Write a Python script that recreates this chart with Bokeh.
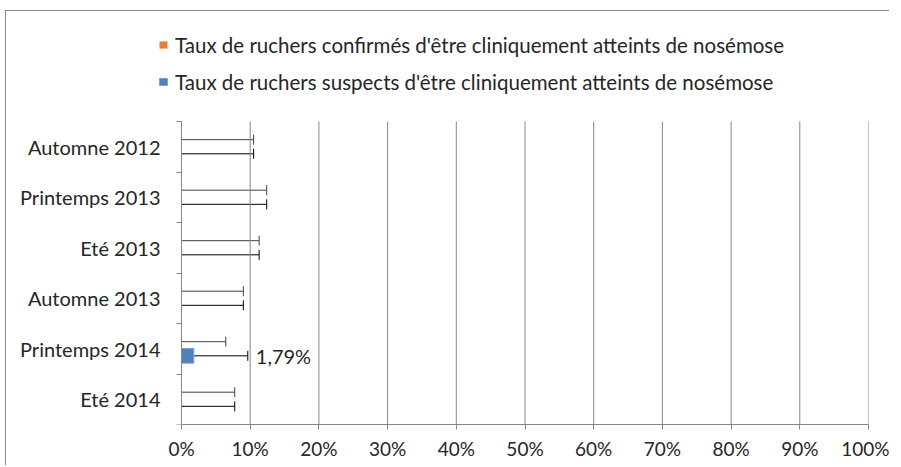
from bokeh.plotting import figure
from bokeh.models import (ColumnDataSource, Whisker, TeeHead, FixedTicker, Range1d,
                          Legend, LegendItem, LabelSet)
from bokeh.core.properties import value
from bokeh.embed import file_html
from bokeh.resources import INLINE

# ---- data ----
categories = ["Automne 2012", "Printemps 2013", "Eté 2013",
              "Automne 2013", "Printemps 2014", "Eté 2014"]
confirmed = [0, 0, 0, 0, 0, 0]                      # %
suspects = [0, 0, 0, 0, 1.79, 0]                    # %
confirmed_upper = [10.5, 12.4, 11.3, 9.0, 6.45, 7.75]   # % (error bar end)
suspects_upper = [10.5, 12.4, 11.3, 9.0, 9.65, 7.75]    # %
x_ticks = [0, 10, 20, 30, 40, 50, 60, 70, 80, 90, 100]
series_names = ["Taux de ruchers confirmés d'être cliniquement atteints de nosémose",
                "Taux de ruchers suspects d'être cliniquement atteints de nosémose"]

FONT = "Lato"
TXT = "#262626"
GRAY = "#878787"
ORANGE = "#ED7D31"
BLUE = "#4F81BD"

n = len(categories)
centers = [n - i - 0.5 for i in range(n)]
off = 0.14
y_conf = [c + off for c in centers]
y_susp = [c - off for c in centers]

src_c = ColumnDataSource(dict(y=y_conf, v=confirmed, up=confirmed_upper, lo=[0] * n))
src_s = ColumnDataSource(dict(y=y_susp, v=suspects, up=suspects_upper, lo=[0] * n,
                              lab=[(f"{v:.2f}".replace(".", ",") + "%") if v else "" for v in suspects]))

# The frame also covers the legend strip (top) and the category-label strip (left),
# so that the legend is not clipped; the plotting area itself is x in [0,100], y in [0,n].
FRAME_L, AXIS_X, FRAME_R = 3, 175, 862        # px inside the figure
FRAME_H, CAT_H = 413, 303                     # px
x_start = -100 * (AXIS_X - FRAME_L) / (FRAME_R - AXIS_X)

p = figure(width=884, height=455, output_backend="svg", toolbar_location=None,
           x_range=Range1d(x_start, 100), y_range=Range1d(0, n * FRAME_H / CAT_H),
           min_border_left=FRAME_L, min_border_right=884 - FRAME_R,
           min_border_top=0, min_border_bottom=455 - FRAME_H)
p.outline_line_color = None
p.styles = {"border-top": "1px solid #878787", "border-left": "1px solid #878787",
            "margin-top": "10px", "margin-left": "5px"}

# vertical grid lines limited to the category area
grid_x = x_ticks[1:]
p.segment(x0=grid_x, x1=grid_x, y0=[0] * len(grid_x), y1=[n] * len(grid_x),
          line_color=GRAY, line_width=1)

r_c = p.hbar(y="y", right="v", left=0, height=0.29, source=src_c,
             fill_color=ORANGE, line_color=None)
r_s = p.hbar(y="y", right="v", left=0, height=0.29, source=src_s,
             fill_color=BLUE, line_color="#7EA3D3")

p.add_layout(Whisker(source=src_c, base="y", lower="lo", upper="up", dimension="width",
                     line_color="#404040", line_width=1, lower_head=None,
                     upper_head=TeeHead(size=10, line_color="#404040", line_width=1)))
p.add_layout(Whisker(source=src_s, base="y", lower="lo", upper="up", dimension="width",
                     line_color="black", line_width=1, lower_head=None,
                     upper_head=TeeHead(size=10, line_color="black", line_width=1)))

p.add_layout(LabelSet(x="up", y="y", text="lab", source=src_s, x_offset=8,
                      text_font=value(FONT), text_font_size=value("20px"), text_color=TXT,
                      text_baseline="middle"))

# x axis
p.xaxis.bounds = (0, 100)
p.xaxis.ticker = FixedTicker(ticks=x_ticks)
p.xaxis.major_label_overrides = {t: f"{t}%" for t in x_ticks}
p.xaxis.axis_line_color = GRAY
p.xaxis.major_tick_line_color = GRAY
p.xaxis.major_tick_out = 5
p.xaxis.major_tick_in = 0
p.xaxis.minor_tick_line_color = None
p.xaxis.major_label_text_font = FONT
p.xaxis.major_label_text_font_size = "19px"
p.xaxis.major_label_text_color = TXT
p.xaxis.major_label_standoff = 7

# y axis drawn at x = 0: labels at centres, ticks between categories
p.yaxis.fixed_location = 0
p.yaxis.bounds = (0, n)
p.yaxis.ticker = FixedTicker(ticks=centers, minor_ticks=list(range(n + 1)))
p.yaxis.major_label_overrides = {c: categories[i] for i, c in enumerate(centers)}
p.yaxis.axis_line_color = GRAY
p.yaxis.major_tick_out = 0
p.yaxis.major_tick_in = 0
p.yaxis.minor_tick_line_color = GRAY
p.yaxis.minor_tick_out = 5
p.yaxis.minor_tick_in = 0
p.yaxis.major_label_text_font = FONT
p.yaxis.major_label_text_font_size = "20px"
p.yaxis.major_label_text_color = TXT
p.yaxis.major_label_standoff = 16

p.xgrid.grid_line_color = None
p.ygrid.grid_line_color = None

legend = Legend(items=[LegendItem(label=series_names[0], renderers=[r_c]),
                       LegendItem(label=series_names[1], renderers=[r_s])],
                location=(152 - FRAME_L, 330), orientation="vertical",
                padding=0, margin=0, spacing=12, label_height=25,
                glyph_width=10, glyph_height=9, label_standoff=7,
                label_text_font=FONT, label_text_font_size="20.5px", label_text_color=TXT,
                border_line_color=None, background_fill_alpha=0)
p.add_layout(legend, "center")

open("out.html", "w").write(file_html(p, INLINE))
